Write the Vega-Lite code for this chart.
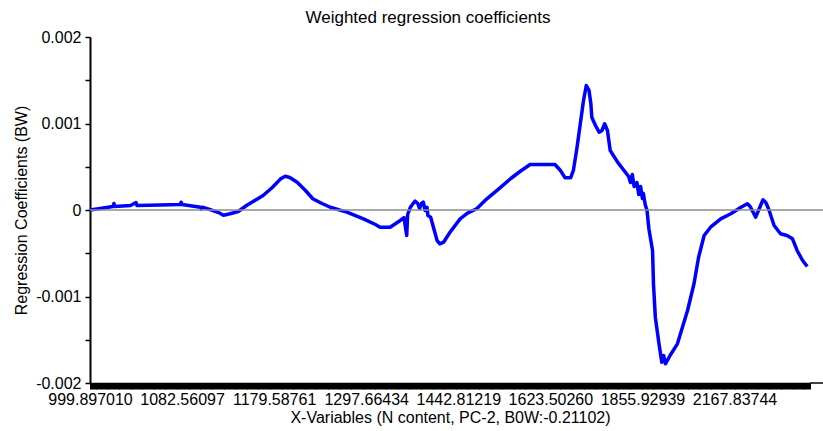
{
  "$schema": "https://vega.github.io/schema/vega-lite/v6.json",
  "width": 720,
  "height": 346,
  "autosize": {"type": "none"},
  "padding": {"left": 90, "right": 13, "top": 37, "bottom": 48},
  "background": "white",
  "config": {"font": "Liberation Sans", "view": {"stroke": null}},
  "title": {"text": "Weighted regression coefficients", "fontSize": 17, "fontWeight": "normal", "font": "Liberation Sans", "color": "black", "offset": 2, "dx": -22, "anchor": "middle"},
  "data": {"values": [
    {"idx":0,"coef":0.0},{"idx":11,"coef":0.000017},{"idx":25,"coef":0.00004},{"idx":26,"coef":0.000075},{"idx":27,"coef":0.00004},
    {"idx":44,"coef":0.000052},{"idx":50,"coef":0.000087},{"idx":51,"coef":0.000052},{"idx":76,"coef":0.000058},{"idx":98,"coef":0.000064},
    {"idx":99,"coef":0.00009},{"idx":100,"coef":0.000064},{"idx":120,"coef":0.000032},{"idx":121,"coef":0.00001},{"idx":122,"coef":0.000032},
    {"idx":130,"coef":0.000006},{"idx":141,"coef":-0.000037},{"idx":145,"coef":-0.00006},{"idx":152,"coef":-0.000044},{"idx":161,"coef":-0.000017},{"idx":170,"coef":0.000052},
    {"idx":179,"coef":0.00011},{"idx":188,"coef":0.000168},{"idx":198,"coef":0.00026},{"idx":207,"coef":0.00036},{"idx":212,"coef":0.00039},
    {"idx":217,"coef":0.000376},{"idx":225,"coef":0.000321},{"idx":234,"coef":0.000225},{"idx":242,"coef":0.00013},{"idx":252,"coef":0.000075},
    {"idx":261,"coef":0.000032},{"idx":279,"coef":-0.000025},{"idx":297,"coef":-0.000102},{"idx":310,"coef":-0.000168},{"idx":315,"coef":-0.000199},
    {"idx":326,"coef":-0.000199},{"idx":337,"coef":-0.000121},{"idx":341,"coef":-0.000087},{"idx":344,"coef":-0.000295},{"idx":345,"coef":-0.000052},
    {"idx":348,"coef":0.000032},{"idx":351,"coef":0.000075},{"idx":353,"coef":0.000102},{"idx":356,"coef":0.000075},{"idx":358,"coef":0.000017},
    {"idx":360,"coef":0.000075},{"idx":362,"coef":0.00009},{"idx":364,"coef":-0.000006},{"idx":366,"coef":0.000032},{"idx":367,"coef":-0.000064},
    {"idx":370,"coef":-0.000083},{"idx":373,"coef":-0.000199},{"idx":377,"coef":-0.000353},{"idx":380,"coef":-0.000391},{"idx":384,"coef":-0.000372},
    {"idx":391,"coef":-0.000257},{"idx":402,"coef":-0.000102},{"idx":410,"coef":-0.000037},{"idx":420,"coef":0.000014},{"idx":431,"coef":0.000129},
    {"idx":444,"coef":0.000245},{"idx":457,"coef":0.000364},{"idx":467,"coef":0.000445},{"idx":478,"coef":0.000526},{"idx":489,"coef":0.000526},
    {"idx":505,"coef":0.000526},{"idx":511,"coef":0.000457},{"idx":516,"coef":0.000372},{"idx":522,"coef":0.000372},{"idx":525,"coef":0.000457},
    {"idx":529,"coef":0.000726},{"idx":533,"coef":0.001035},{"idx":536,"coef":0.001266},{"idx":539,"coef":0.001439},{"idx":542,"coef":0.001382},
    {"idx":544,"coef":0.001228},{"idx":545,"coef":0.001073},{"idx":549,"coef":0.000977},{"idx":553,"coef":0.000899},{"idx":556,"coef":0.000919},
    {"idx":559,"coef":0.000997},{"idx":562,"coef":0.000919},{"idx":565,"coef":0.000688},{"idx":573,"coef":0.000553},{"idx":580,"coef":0.000457},
    {"idx":585,"coef":0.000387},{"idx":587,"coef":0.000318},{"idx":589,"coef":0.00041},{"idx":591,"coef":0.000272},{"idx":594,"coef":0.000318},
    {"idx":596,"coef":0.000179},{"idx":598,"coef":0.000272},{"idx":600,"coef":0.000133},{"idx":601,"coef":0.000191},{"idx":603,"coef":0.000064},
    {"idx":605,"coef":-0.000006},{"idx":607,"coef":-0.000217},{"idx":611,"coef":-0.000468},{"idx":612,"coef":-0.000853},{"idx":614,"coef":-0.001239},
    {"idx":618,"coef":-0.001547},{"idx":621,"coef":-0.00176},{"idx":623,"coef":-0.001682},{"idx":625,"coef":-0.001778},{"idx":630,"coef":-0.001682},
    {"idx":638,"coef":-0.001547},{"idx":649,"coef":-0.001162},{"idx":656,"coef":-0.000853},{"idx":661,"coef":-0.000546},{"idx":667,"coef":-0.000295},
    {"idx":674,"coef":-0.000199},{"idx":685,"coef":-0.000102},{"idx":696,"coef":-0.000044},{"idx":707,"coef":0.000032},{"idx":714,"coef":0.000072},
    {"idx":717,"coef":0.00004},{"idx":723,"coef":-0.000083},{"idx":726,"coef":-0.000006},{"idx":731,"coef":0.000118},{"idx":734,"coef":0.000087},
    {"idx":737,"coef":0.000014},{"idx":743,"coef":-0.000179},{"idx":750,"coef":-0.000275},{"idx":757,"coef":-0.000295},{"idx":763,"coef":-0.000333},
    {"idx":768,"coef":-0.000468},{"idx":774,"coef":-0.000584},{"idx":779,"coef":-0.000653}
  ]},
  "layer": [
    {
      "mark": {"type": "line", "color": "#0000ff", "strokeWidth": 3.5, "strokeJoin": "round", "clip": false},
      "encoding": {
        "x": {"field": "idx", "type": "quantitative",
          "scale": {"domain": [0, 782], "nice": false, "zero": false},
          "axis": {"tickCount": 782, "labelExpr": "datum.value % 100 == 0 ? ['999.897010','1082.56097','1179.58761','1297.66434','1442.81219','1623.50260','1855.92939','2167.83744'][datum.value/100] : ''",
            "labelOverlap": false, "labelFlush": false, "labelBound": false, "tickSize": 6, "tickColor": "black", "tickWidth": 1,
            "domainColor": "black", "domainWidth": 1.5, "labelFontSize": 16, "labelColor": "black", "labelPadding": 2, "grid": false,
            "title": "X-Variables (N content, PC-2, B0W:-0.21102)", "titleFontSize": 16, "titleFontWeight": "normal", "titleColor": "black", "titlePadding": 2}},
        "y": {"field": "coef", "type": "quantitative",
          "scale": {"domain": [-0.002, 0.002], "nice": false, "zero": false},
          "axis": {"values": [-0.002, -0.0015, -0.001, -0.0005, 0, 0.0005, 0.001, 0.0015, 0.002],
            "labelExpr": "['-0.002','','-0.001','','0','','0.001','','0.002'][round(datum.value*2000)+4]",
            "grid": false, "tickSize": 5, "tickColor": "black", "tickWidth": 1.5, "domainColor": "black", "domainWidth": 2,
            "labelFontSize": 16, "labelColor": "black", "labelPadding": 4,
            "title": "Regression Coefficients (BW)", "titleFontSize": 16, "titleFontWeight": "normal", "titleColor": "black", "titlePadding": 6}}
      }
    },
    {
      "data": {"values": [{}]},
      "mark": {"type": "rule", "color": "#8c8c8c", "strokeWidth": 1.5, "clip": false},
      "encoding": {
        "x": {"datum": 0, "type": "quantitative", "scale": {"domain": [0, 782], "nice": false, "zero": false}},
        "x2": {"datum": 797},
        "y": {"datum": 0, "type": "quantitative", "scale": {"domain": [-0.002, 0.002], "nice": false, "zero": false}}
      }
    },
    {
      "data": {"values": [{}]},
      "mark": {"type": "rule", "color": "black", "strokeWidth": 1.5, "clip": false},
      "encoding": {
        "x": {"datum": 782, "type": "quantitative", "scale": {"domain": [0, 782], "nice": false, "zero": false}},
        "x2": {"datum": 797},
        "y": {"datum": -0.002, "type": "quantitative", "scale": {"domain": [-0.002, 0.002], "nice": false, "zero": false}}
      }
    }
  ]
}
